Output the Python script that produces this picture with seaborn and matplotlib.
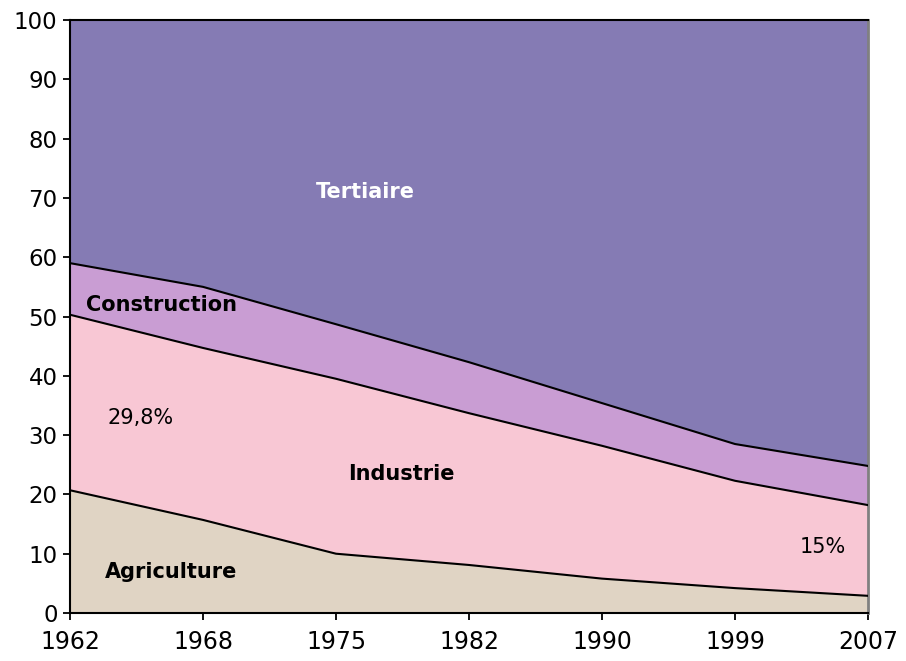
import matplotlib
matplotlib.use("Agg")
import matplotlib.pyplot as plt
import seaborn as sns
import numpy as np
import pandas as pd

years = ["1962", "1968", "1975", "1982", "1990", "1999", "2007"]
agriculture = [20.7, 15.7, 10.0, 8.1, 5.8, 4.2, 2.9]
industrie = [29.6, 29.0, 29.5, 25.6, 22.4, 18.1, 15.3]
construction = [8.7, 10.3, 9.2, 8.6, 7.2, 6.2, 6.6]
tertiaire = [41.0, 45.0, 51.3, 57.7, 64.6, 71.5, 75.2]

sectors = ["Agriculture", "Industrie", "Construction", "Tertiaire"]
colors = ["#e0d4c4", "#f8c7d4", "#c99dd3", "#857bb4"]

sns.set_theme(style="white")
plt.rcParams['font.family'] = ['DejaVu Sans']

df = pd.DataFrame({"Agriculture": agriculture, "Industrie": industrie,
                   "Construction": construction, "Tertiaire": tertiaire},
                  index=years)
x = np.arange(len(years))
cum = df.cumsum(axis=1)

fig = plt.figure(figsize=(9.06, 6.61), dpi=100)
ax = fig.add_axes([0.0773, 0.0726, 0.9807 - 0.0773 - 0.0227, 0.9697 - 0.0726])

bottom = np.zeros(len(years))
for s, c in zip(sectors, colors):
    top = cum[s].values
    ax.fill_between(x, bottom, top, color=c, lw=0, zorder=1)
    bottom = top
for s in sectors[:-1]:
    sns.lineplot(x=x, y=cum[s].values, ax=ax, color="black", lw=1.5, zorder=3)

ax.set_xlim(0, len(years) - 1)
ax.set_ylim(0, 100)
ax.set_xticks(x)
ax.set_xticklabels(years)
ax.set_yticks(range(0, 101, 10))
ax.tick_params(axis="both", direction="out", length=5, width=1.3, colors="black",
               labelsize=16.5, bottom=True, left=True)
ax.tick_params(axis="x", pad=7, labelsize=17)
ax.tick_params(axis="y", pad=4)
for side in ["left", "bottom", "top"]:
    ax.spines[side].set_color("black")
    ax.spines[side].set_linewidth(1.5)
ax.spines["right"].set_color("#808080")
ax.spines["right"].set_linewidth(2)

fs = 15
ax.text(2.22, 71, "Tertiaire", color="white", fontsize=fs, fontweight="bold", ha="center", va="center")
ax.text(0.69, 51.9, "Construction", color="black", fontsize=fs, fontweight="bold", ha="center", va="center")
ax.text(0.53, 32.9, "29,8%", color="black", fontsize=fs, ha="center", va="center")
ax.text(2.49, 23.4, "Industrie", color="black", fontsize=fs, fontweight="bold", ha="center", va="center")
ax.text(5.66, 11.1, "15%", color="black", fontsize=fs, ha="center", va="center")
ax.text(0.76, 6.9, "Agriculture", color="black", fontsize=fs, fontweight="bold", ha="center", va="center")

fig.savefig("out.png", dpi=100)
